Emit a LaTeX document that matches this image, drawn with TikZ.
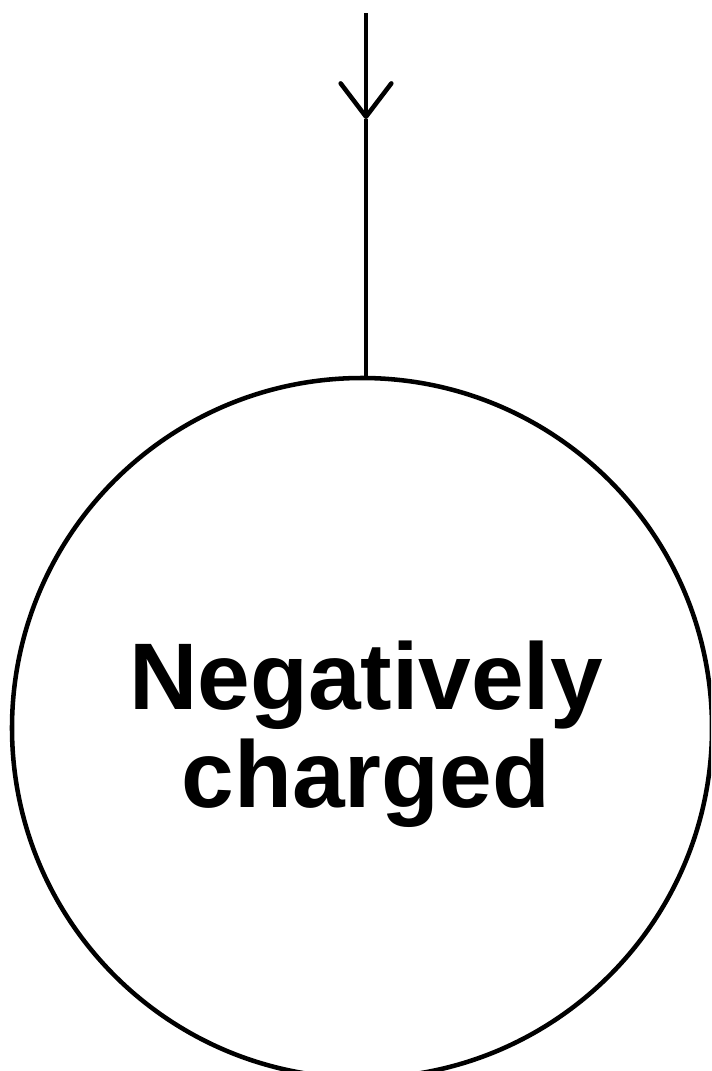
\documentclass[tikz,border=0pt]{standalone}
\usepackage{fontspec}
\setmainfont{Liberation Sans}
\usetikzlibrary{arrows.meta}

\tikzset{every picture/.style={line width=3.4pt}}
\tikzset{charge/.style={draw, circle, minimum size=525pt, inner sep=0pt}}
\tikzset{barb/.style={-{Straight Barb[length=25pt, width=38pt, line width=3.4pt, round]}}}

\begin{document}
\begin{tikzpicture}[x=0.75pt,y=0.75pt,yscale=-1,xscale=1]
\useasboundingbox (0,0) rectangle (711,1071);
\clip (0,0) rectangle (711,1071);

%Shape: Circle
\node [charge] (ion) at (362,728) {};
% Text Node
\node [font=\fontsize{71}{73.5}\selectfont\bfseries, align=center, inner sep=0pt] (label) at (366,734) {Negatively\\charged};

%Straight Lines
\coordinate (top) at (366,13);
\coordinate (tip) at (366,119);
\draw [barb] (top) -- (tip);
\draw (tip) -- (top |- ion.north);

\end{tikzpicture}
\end{document}
